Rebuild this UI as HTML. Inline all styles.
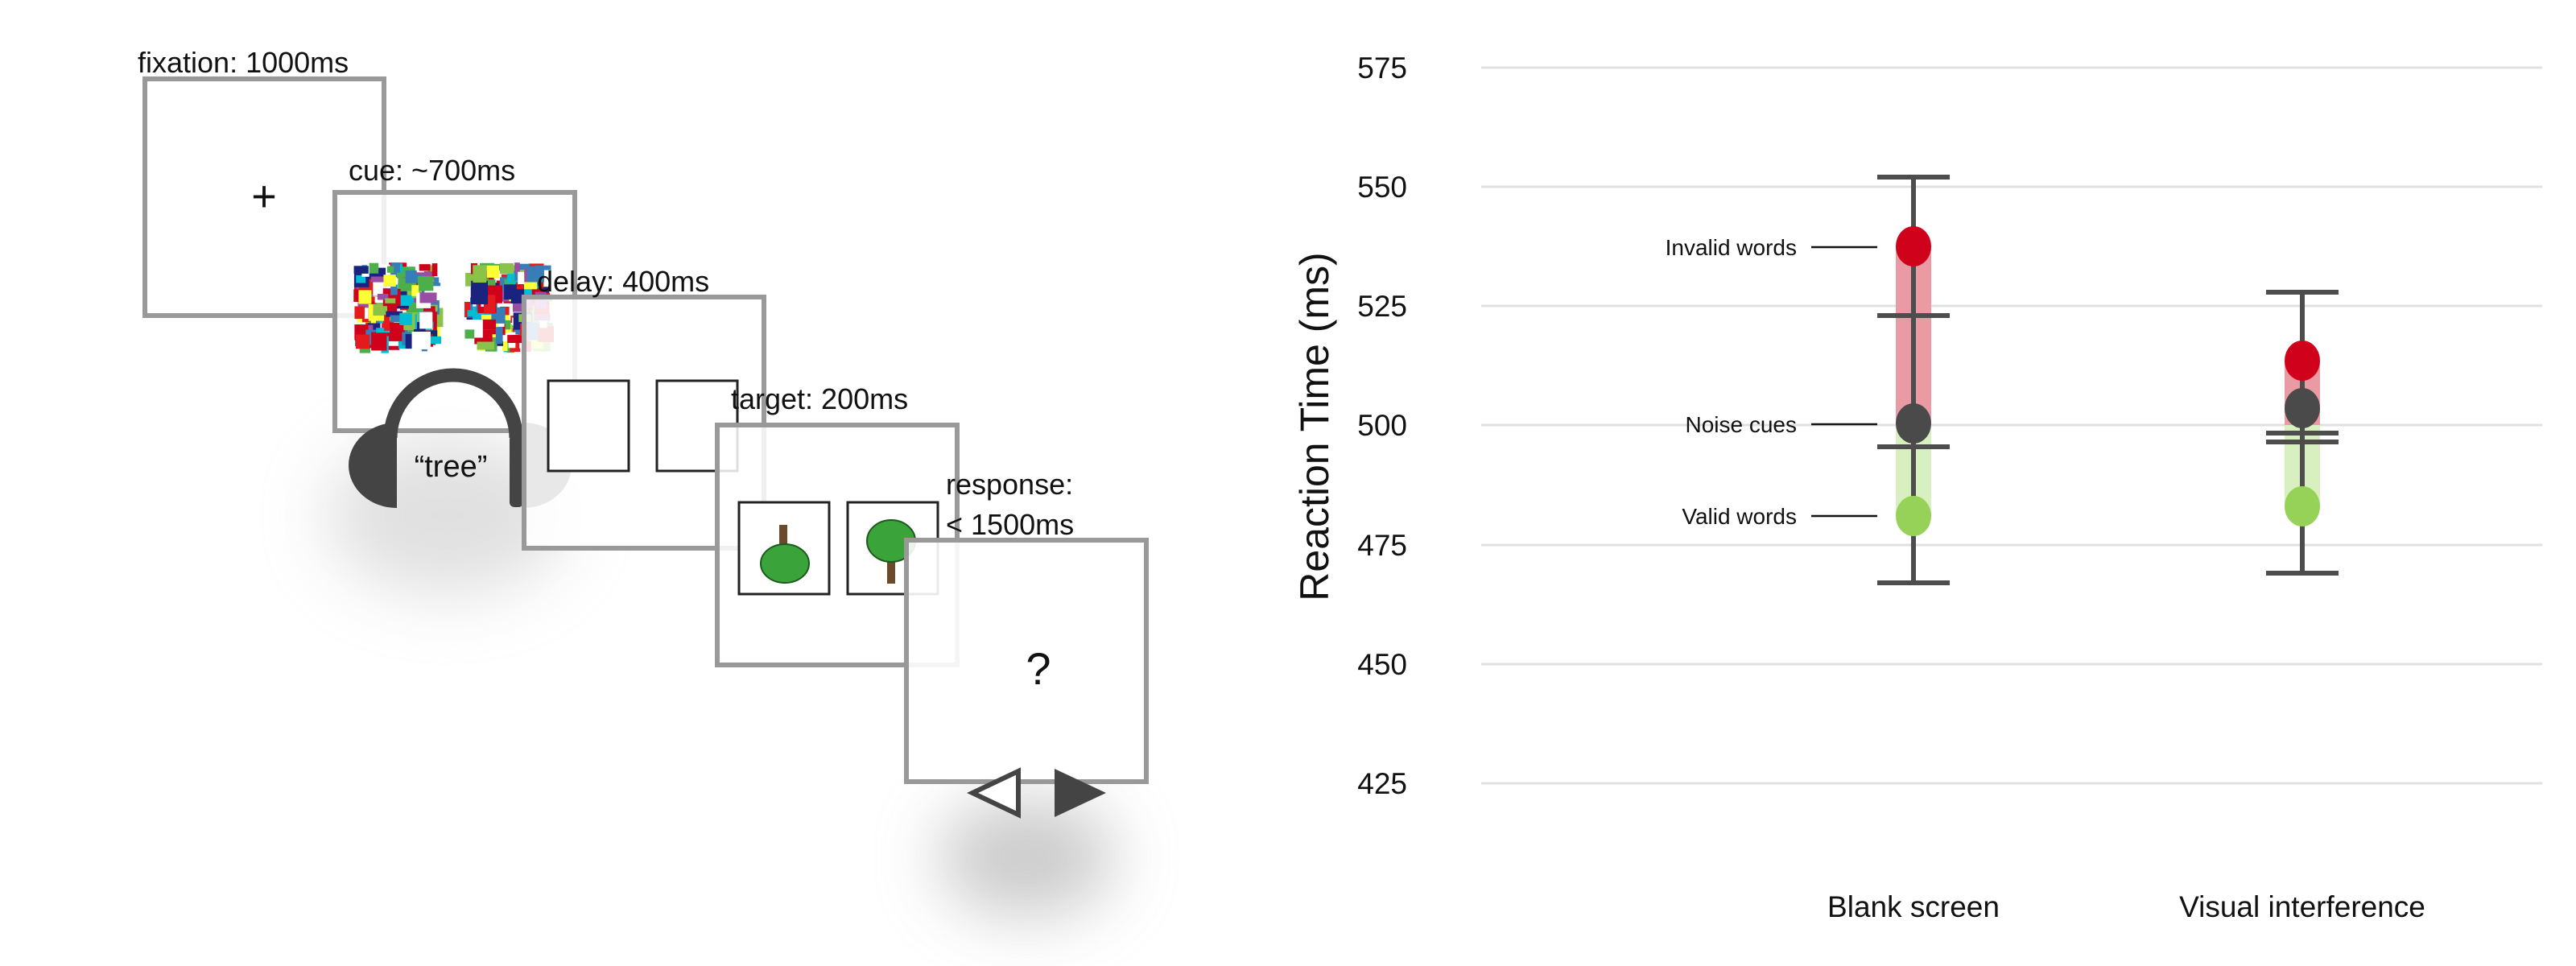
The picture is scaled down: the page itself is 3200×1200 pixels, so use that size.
<!DOCTYPE html>
<html><head><meta charset="utf-8"><style>
html,body{margin:0;padding:0;background:#fff;}
svg{display:block;font-family:"Liberation Sans",Arial,sans-serif;}
</style></head><body>
<svg id="s" width="3200" height="1200" viewBox="0 0 3200 1200" xmlns="http://www.w3.org/2000/svg">
<defs>
<filter id="blur" x="-50%" y="-50%" width="200%" height="200%"><feGaussianBlur stdDeviation="40"/></filter>
</defs>
<!-- shadows -->
<ellipse cx="555" cy="640" rx="150" ry="100" fill="#ccc" filter="url(#blur)" opacity="0.6"/>
<ellipse cx="1275" cy="1065" rx="110" ry="75" fill="#aaa" filter="url(#blur)" opacity="0.6"/>

<!-- fixation -->
<rect x="180" y="98" width="297" height="294" fill="#fff" stroke="#999" stroke-width="6"/>
<text x="328" y="262" font-size="54" text-anchor="middle" fill="#111">+</text>
<text x="171" y="90" font-size="36" fill="#111">fixation: 1000ms</text>

<!-- cue -->
<rect x="416" y="239" width="298" height="296" fill="#fff" fill-opacity="0.85" stroke="#999" stroke-width="6"/>
<g id="noise"></g>
<g fill="#444">
<path d="M485 544 A78 78 0 0 1 641 544" fill="none" stroke="#444" stroke-width="17"/>
<rect x="476" y="540" width="17" height="90" rx="6"/>
<rect x="633" y="540" width="17" height="90" rx="6"/>
<path d="M493 525 A60 53 0 0 0 493 631 Z"/>
<path d="M650 525 A60 53 0 0 1 650 631 Z"/>
</g>
<text x="560" y="592" font-size="38" text-anchor="middle" fill="#111">“tree”</text>
<text x="433" y="224" font-size="36" fill="#111">cue: ~700ms</text>

<!-- delay -->
<rect x="651" y="369" width="298" height="312" fill="#fff" fill-opacity="0.88" stroke="#999" stroke-width="6"/>
<g fill="#fff" stroke="#222" stroke-width="3">
<rect x="681" y="473" width="100" height="112"/>
<rect x="816" y="473" width="100" height="112"/>
</g>
<text x="667" y="362" font-size="36" fill="#111">delay: 400ms</text>

<!-- target -->
<rect x="891" y="528" width="298" height="298" fill="#fff" fill-opacity="0.85" stroke="#999" stroke-width="6"/>
<g fill="#fff" stroke="#222" stroke-width="3">
<rect x="918" y="624" width="112" height="114"/>
<rect x="1053" y="624" width="112" height="114"/>
</g>
<rect x="968" y="652" width="10" height="40" fill="#6b4a2b"/>
<ellipse cx="975" cy="700" rx="30" ry="24" fill="#3aa33a" stroke="#1d5a1d" stroke-width="2"/>
<rect x="1102" y="685" width="10" height="40" fill="#6b4a2b"/>
<ellipse cx="1107" cy="672" rx="30" ry="26" fill="#3aa33a" stroke="#1d5a1d" stroke-width="2"/>
<text x="908" y="508" font-size="36" fill="#111">target: 200ms</text>

<!-- response -->
<rect x="1126" y="671" width="298" height="300" fill="#fff" fill-opacity="0.9" stroke="#999" stroke-width="6"/>
<text x="1290" y="850" font-size="56" text-anchor="middle" fill="#111">?</text>
<polygon points="1265,958 1265,1012 1208,985" fill="#fff" stroke="#444" stroke-width="6"/>
<polygon points="1310,955 1310,1015 1374,985" fill="#444"/>
<text x="1175" y="614" font-size="36" fill="#111">response:</text>
<text x="1175" y="664" font-size="36" fill="#111">&lt; 1500ms</text>

<!-- chart -->
<g stroke="#e0e0e0" stroke-width="3">
<line x1="1840" y1="84" x2="3158" y2="84"/>
<line x1="1840" y1="232" x2="3158" y2="232"/>
<line x1="1840" y1="380" x2="3158" y2="380"/>
<line x1="1840" y1="528" x2="3158" y2="528"/>
<line x1="1840" y1="677" x2="3158" y2="677"/>
<line x1="1840" y1="825" x2="3158" y2="825"/>
<line x1="1840" y1="973" x2="3158" y2="973"/>
</g>
<g font-size="37" fill="#111" text-anchor="end">
<text x="1748" y="97">575</text>
<text x="1748" y="245">550</text>
<text x="1748" y="393">525</text>
<text x="1748" y="541">500</text>
<text x="1748" y="690">475</text>
<text x="1748" y="838">450</text>
<text x="1748" y="986">425</text>
</g>
<text transform="translate(1650,530) rotate(-90)" font-size="50" text-anchor="middle" fill="#111">Reaction Time (ms)</text>
<g font-size="37" fill="#111" text-anchor="middle">
<text x="2377" y="1139">Blank screen</text>
<text x="2860" y="1139">Visual interference</text>
</g>
<rect x="2355" y="306" width="44" height="222" fill="#e99aa2"/>
<rect x="2355" y="528" width="44" height="113" fill="#d8efbf"/>
<rect x="2838" y="448" width="44" height="80" fill="#e99aa2"/>
<rect x="2838" y="528" width="44" height="101" fill="#d8efbf"/>
<g stroke="#4d4d4d" stroke-width="6">
<line x1="2377" y1="220" x2="2377" y2="724"/>
<line x1="2332" y1="220" x2="2422" y2="220"/>
<line x1="2332" y1="724" x2="2422" y2="724"/>
<line x1="2332" y1="392" x2="2422" y2="392"/>
<line x1="2332" y1="555" x2="2422" y2="555"/>
<line x1="2860" y1="363" x2="2860" y2="712"/>
<line x1="2815" y1="363" x2="2905" y2="363"/>
<line x1="2815" y1="712" x2="2905" y2="712"/>
<line x1="2815" y1="538" x2="2905" y2="538"/>
<line x1="2815" y1="549" x2="2905" y2="549"/>
</g>
<ellipse cx="2377" cy="306" rx="22" ry="25" fill="#d0021b"/>
<ellipse cx="2377" cy="526" rx="22" ry="25" fill="#4a4a4a"/>
<ellipse cx="2377" cy="641" rx="22" ry="25" fill="#96d257"/>
<ellipse cx="2860" cy="448" rx="22" ry="25" fill="#d0021b"/>
<ellipse cx="2860" cy="507" rx="22" ry="25" fill="#4a4a4a"/>
<ellipse cx="2860" cy="629" rx="22" ry="25" fill="#96d257"/>
<g stroke="#111" stroke-width="2.5">
<line x1="2250" y1="307" x2="2332" y2="307"/>
<line x1="2250" y1="527" x2="2332" y2="527"/>
<line x1="2250" y1="641" x2="2332" y2="641"/>
</g>
<g font-size="28" fill="#111" text-anchor="end">
<text x="2232" y="317">Invalid words</text>
<text x="2232" y="537">Noise cues</text>
<text x="2232" y="651">Valid words</text>
</g>
</svg>
<script>
(function(){
var g=document.getElementById('noise');
var cols=['#e41a1c','#377eb8','#4daf4a','#984ea3','#ffff33','#00bcd4','#1a237e','#fff','#8bc34a','#d0021b'];
var seed=7;function r(){seed=(seed*16807)%2147483647;return seed/2147483647;}
[[439,326],[577,326]].forEach(function(p){
for(var i=0;i<180;i++){
var w=6+r()*18,h=6+r()*18,x=p[0]+r()*(112-w),y=p[1]+r()*(113-h);
var e=document.createElementNS('http://www.w3.org/2000/svg','rect');
e.setAttribute('x',x);e.setAttribute('y',y);e.setAttribute('width',w);e.setAttribute('height',h);
e.setAttribute('fill',cols[Math.floor(r()*cols.length)]);g.appendChild(e);}
});
})();
</script>
</body></html>
